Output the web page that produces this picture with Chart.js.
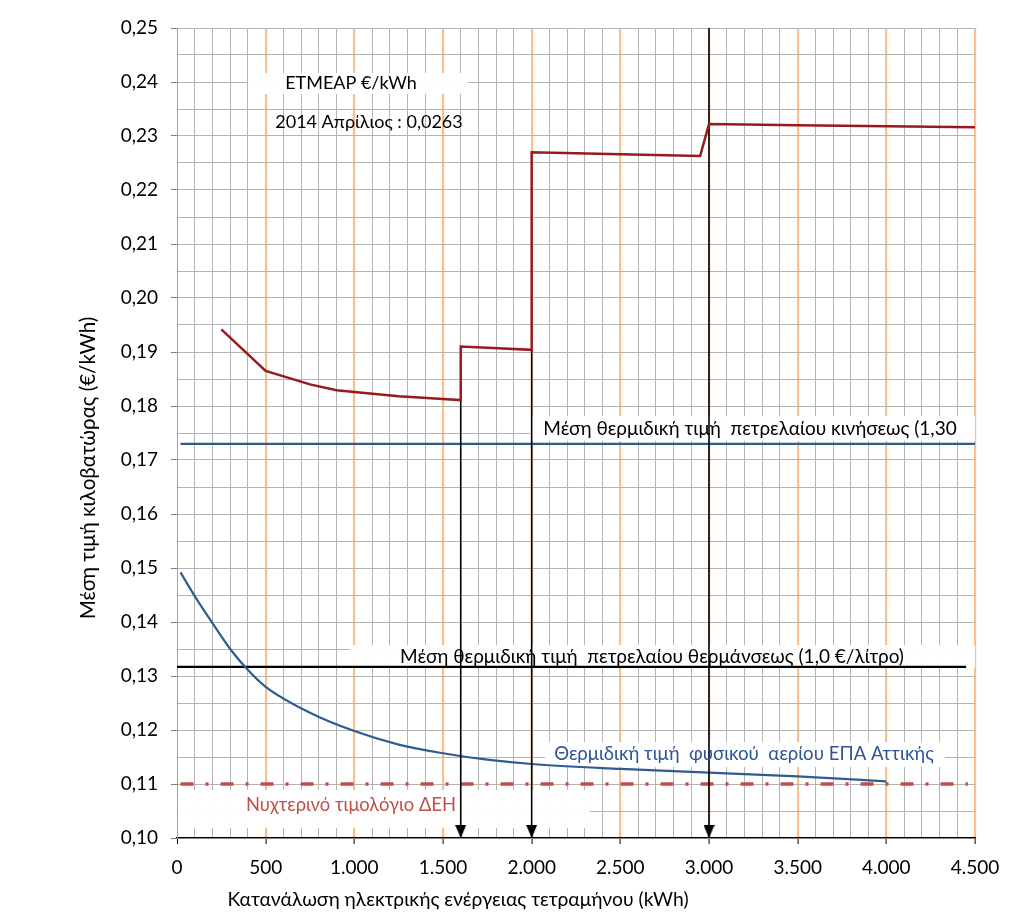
<!DOCTYPE html>
<html>
<head>
<meta charset="utf-8">
<script src="https://cdn.jsdelivr.net/npm/chart.js@4.4.1/dist/chart.umd.min.js"></script>
<style>
  html, body { margin: 0; padding: 0; background: #fff; }
</style>
</head>
<body>
<canvas id="grafico" width="1024" height="922"></canvas>
<script>
// μέση τιμή κιλοβατώρας ΔΕΗ (τιμολόγιο Γ1)
const tiologioX = [250, 500, 750, 900, 1000, 1250, 1500, 1600, 1600, 1750, 2000, 2000, 2250, 2500, 2950, 3000, 3500, 4000, 4500];
const tiologioY = [0.1942, 0.1865, 0.1840, 0.1829, 0.1826, 0.1818, 0.1813, 0.1811, 0.1910, 0.1908, 0.1904, 0.2270, 0.2268, 0.2266, 0.2263, 0.2322, 0.2320, 0.2318, 0.2316];

// φυσικό αέριο ΕΠΑ Αττικής
const aerioX = [20, 100, 200, 300, 400, 500, 750, 1000, 1250, 1500, 1750, 2000, 2500, 3000, 3500, 4000];
const aerioY = [0.1492, 0.1448, 0.1398, 0.1350, 0.1311, 0.1280, 0.1232, 0.1198, 0.1173, 0.1157, 0.1145, 0.1137, 0.1128, 0.1121, 0.1114, 0.1105];

// οριζόντιες γραμμές
const kiniseosX = [20, 4500];
const kiniseosY = [0.1730, 0.1730];
const thermanseosX = [0, 4450];
const thermanseosY = [0.1317, 0.1317];
const nyxterinoX = [20, 4460];
const nyxterinoY = [0.1100, 0.1100];

// βέλη (κλιμάκια)
const veliX = [1600, 2000, 3000];
const veliApo = [0.1811, 0.1904, 0.25];
const veliEos = 0.10;

const xTicks = { min: 0, max: 4500, step: 100, major: 500 };
const yTicks = { min: 0.10, max: 0.25, step: 0.005 };

function zeugi(xs, ys) {
  return xs.map((x, i) => ({ x: x, y: ys[i] }));
}

function formatX(v) {
  if (v >= 1000) return Math.floor(v / 1000) + '.' + String(v % 1000).padStart(3, '0');
  return String(v);
}
function formatY(v) {
  return (Math.round(v * 100) / 100).toFixed(2).replace('.', ',');
}

// μύτη βέλους: η κορυφή πέφτει στο κέντρο της εικόνας
const ponta = document.createElement('canvas');
ponta.width = 11;
ponta.height = 26;
(function () {
  const c = ponta.getContext('2d');
  c.fillStyle = '#000';
  c.beginPath();
  c.moveTo(0, 0);
  c.lineTo(11, 0);
  c.lineTo(5.5, 13);
  c.closePath();
  c.fill();
})();

const FONT = 'Lato, "Open Sans", sans-serif';

const simeioseis = [
  { text: 'ΕΤΜΕΑΡ €/kWh', x: 351, y: 83, color: '#000', size: 18, box: [248, 73, 468, 94] },
  { text: '2014 Απρίλιος : 0,0263', x: 369, y: 122, color: '#000', size: 18 },
  { text: 'Μέση θερμιδική τιμή  πετρελαίου κινήσεως (1,30', x: 750, y: 429, color: '#000', size: 19, box: [530, 416, 975, 441] },
  { text: 'Μέση θερμιδική τιμή  πετρελαίου θερμάνσεως (1,0 €/λίτρο)', x: 652, y: 657, color: '#000', size: 19, box: [350, 645, 975, 668] },
  { text: 'Θερμιδική τιμή  φυσικού  αερίου ΕΠΑ Αττικής', x: 744, y: 754, color: '#2F5597', size: 18.6, box: [545, 742, 945, 767] },
  { text: 'Νυχτερινό τιμολόγιο ΔΕΗ', x: 351, y: 805, color: '#C0504D', size: 18.4, box: [178, 790, 590, 828] }
];

const keimena = {
  id: 'keimena',
  beforeDatasetsDraw(chart) {
    const ctx = chart.ctx;
    ctx.save();
    ctx.fillStyle = 'rgba(255,255,255,0.95)';
    simeioseis.forEach(s => {
      if (!s.box) return;
      ctx.fillRect(s.box[0], s.box[1], s.box[2] - s.box[0], s.box[3] - s.box[1]);
    });
    ctx.restore();
  },
  afterDatasetsDraw(chart) {
    const ctx = chart.ctx;
    ctx.save();
    ctx.textAlign = 'center';
    ctx.textBaseline = 'middle';
    simeioseis.forEach(s => {
      ctx.font = s.size + 'px ' + FONT;
      ctx.fillStyle = s.color;
      ctx.fillText(s.text, s.x, s.y);
    });
    // τίτλοι αξόνων
    ctx.fillStyle = '#000';
    ctx.font = '19.3px ' + FONT;
    ctx.fillText('Κατανάλωση ηλεκτρικής ενέργειας τετραμήνου (kWh)', 458, 900);
    ctx.font = '20.6px ' + FONT;
    ctx.translate(88, 468);
    ctx.rotate(-Math.PI / 2);
    ctx.fillText('Μέση τιμή κιλοβατώρας (€/kWh)', 0, 0);
    ctx.restore();
  }
};

const datasets = [
  {
    data: zeugi(tiologioX, tiologioY),
    borderColor: '#971B1E',
    borderWidth: 2.5,
    pointRadius: 0,
    tension: 0
  }
];

veliX.forEach((x, i) => {
  datasets.push({
    data: [{ x: x, y: veliApo[i] }, { x: x, y: veliEos }],
    borderColor: '#000',
    borderWidth: 1.6,
    pointRadius: [0, 6],
    pointStyle: ponta,
    tension: 0
  });
});

datasets.push(
  {
    data: zeugi(aerioX, aerioY),
    borderColor: '#2F5C94',
    borderWidth: 2.2,
    pointRadius: 0,
    cubicInterpolationMode: 'monotone'
  },
  {
    data: zeugi(kiniseosX, kiniseosY),
    borderColor: '#2A5B94',
    borderWidth: 2.2,
    pointRadius: 0
  },
  {
    data: zeugi(thermanseosX, thermanseosY),
    borderColor: '#000',
    borderWidth: 2.2,
    pointRadius: 0
  },
  {
    data: zeugi(nyxterinoX, nyxterinoY),
    borderColor: '#C0504D',
    borderWidth: 3.5,
    borderDash: [13, 12, 3, 12],
    borderCapStyle: 'butt',
    pointRadius: 0
  }
);

const ctxGrafico = document.getElementById('grafico').getContext('2d');

let myChart = new Chart(ctxGrafico, {
  type: 'line',
  data: { datasets: datasets },
  options: {
    responsive: false,
    animation: false,
    layout: { padding: { left: 0, top: 28, right: 49, bottom: 0 } },
    plugins: {
      legend: { display: false },
      tooltip: { enabled: false }
    },
    scales: {
      x: {
        type: 'linear',
        min: xTicks.min,
        max: xTicks.max,
        afterFit(scale) { scale.height = 922 - 838; },
        afterBuildTicks(scale) {
          const t = [];
          for (let v = xTicks.min; v <= xTicks.max; v += xTicks.step) t.push({ value: v });
          scale.ticks = t;
        },
        ticks: {
          autoSkip: false,
          maxRotation: 0,
          padding: 12,
          color: '#000',
          font: { family: FONT, size: 19 },
          callback: v => (v % xTicks.major === 0 ? formatX(v) : '')
        },
        grid: {
          color: c => (c.tick && c.tick.value % xTicks.major === 0 && c.tick.value > 0 ? '#F9C08E' : '#B4B4B4'),
          lineWidth: c => (c.tick && c.tick.value % xTicks.major === 0 && c.tick.value > 0 ? 2.2 : 1),
          tickColor: c => (c.tick && c.tick.value % xTicks.major === 0 ? '#000' : 'rgba(0,0,0,0)'),
          tickWidth: 1,
          tickLength: 6
        },
        border: { color: '#000', width: 1.2 }
      },
      y: {
        type: 'linear',
        min: yTicks.min,
        max: yTicks.max,
        afterFit(scale) { scale.width = 177; },
        afterBuildTicks(scale) {
          const t = [];
          for (let k = 0; k <= Math.round((yTicks.max - yTicks.min) / yTicks.step); k++) {
            t.push({ value: Math.round((yTicks.min + k * yTicks.step) * 1000) / 1000 });
          }
          scale.ticks = t;
        },
        ticks: {
          autoSkip: false,
          padding: 13,
          color: '#000',
          font: { family: FONT, size: 19 },
          callback: v => (Math.round(v * 1000) % 10 === 0 ? formatY(v) : '')
        },
        grid: {
          color: '#B4B4B4',
          lineWidth: 1,
          tickColor: c => (c.tick && Math.round(c.tick.value * 1000) % 10 === 0 ? '#7F7F7F' : 'rgba(0,0,0,0)'),
          tickLength: 6
        },
        border: { color: '#A0A0A0', width: 1 }
      }
    }
  },
  plugins: [keimena]
});
</script>
</body>
</html>
